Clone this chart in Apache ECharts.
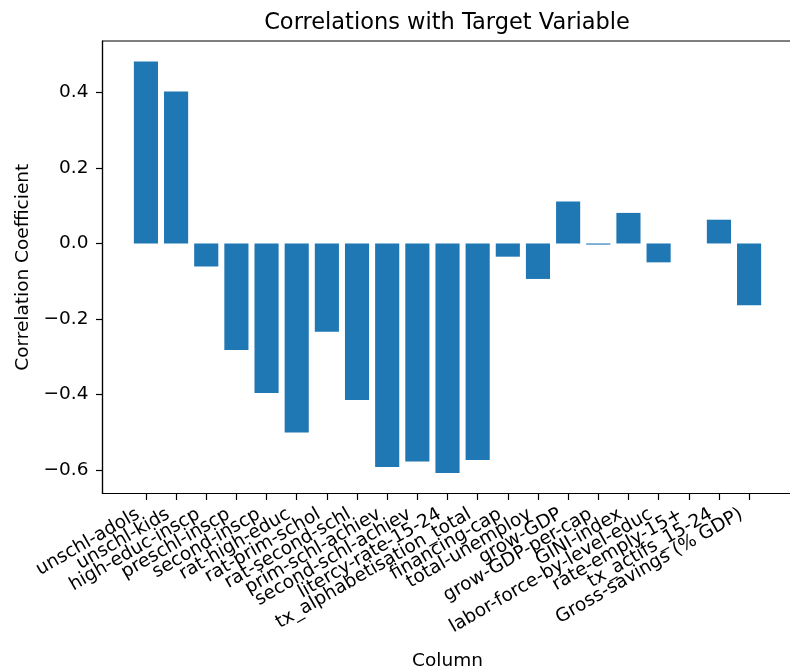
<!DOCTYPE html>
<html>
<head>
<meta charset="utf-8">
<script src="https://cdn.jsdelivr.net/npm/echarts@6/dist/echarts.min.js"></script>
<style>
  html, body { margin: 0; padding: 0; background: #fff; }
  #chart { width: 790px; height: 672px; }
</style>
</head>
<body>
<div id="chart"></div>
<script>
// Feature names along the x axis
const columns = [
  'unschl-adols', 'unschl-kids', 'high-educ-inscp', 'preschl-inscp',
  'second-inscp', 'rat-high-educ', 'rat-prim-schol', 'rat-second-schl',
  'prim-schl-achiev', 'second-schl-achiev', 'litercy-rate-15-24',
  'tx_alphabetisation_total', 'financing-cap', 'total-unemploy', 'grow-GDP',
  'grow-GDP-per-cap', 'GINI-index', 'labor-force-by-level-educ',
  'rate-emply-15+', 'tx_actifs_15-24', 'Gross-savings (% GDP)'
];

// Correlation of each feature with the target (null = undefined correlation)
const correlations = [
  0.482, 0.403, -0.061, -0.282,
  -0.396, -0.501, -0.234, -0.415,
  -0.592, -0.578, -0.608,
  -0.574, -0.035, -0.094, 0.111,
  -0.003, 0.081, -0.050,
  null, 0.063, -0.164
];

// Y tick values
const yTicks = [-0.6, -0.4, -0.2, 0.0, 0.2, 0.4];

const FONT = 'DejaVu Sans';
const barColor = '#1f77b4';

// Axes frame and the band layout inside it: the frame keeps a margin of
// 1.44 bar slots on each side, the category bands fill the rest.
const FRAME = { left: 102.5, top: 41, width: 690, height: 452.5 };
const SLOT_MARGIN = 1.44;
const slot = FRAME.width / (columns.length - 1 + 2 * SLOT_MARGIN);
const bandLeft = FRAME.left + (SLOT_MARGIN - 0.5) * slot;
const bandWidth = columns.length * slot;

const Y_MIN = -0.6625, Y_MAX = 0.5365;
const lineStyle = { color: '#000', width: 1.2 };

const chart = echarts.init(document.getElementById('chart'), null, { renderer: 'canvas' });

chart.setOption({
  animation: false,
  backgroundColor: '#ffffff',
  title: {
    text: 'Correlations with Target Variable',
    left: 447,
    top: 12,
    padding: 0,
    textAlign: 'center',
    textStyle: { fontFamily: FONT, fontSize: 22.5, fontWeight: 'normal', color: '#000' }
  },
  grid: [
    {
      // axes frame
      left: FRAME.left, top: FRAME.top, width: FRAME.width, height: FRAME.height,
      containLabel: false, outerBoundsMode: 'none',
      show: true, borderColor: '#000', borderWidth: 1.2, backgroundColor: 'transparent'
    },
    {
      // category bands
      left: bandLeft, top: FRAME.top, width: bandWidth, height: FRAME.height,
      containLabel: false, outerBoundsMode: 'none', show: false
    }
  ],
  xAxis: [
    { type: 'value', gridIndex: 0, show: false, min: 0, max: 1 },
    {
      type: 'category',
      gridIndex: 1,
      data: columns,
      boundaryGap: true,
      name: 'Column',
      nameLocation: 'middle',
      nameGap: 158,
      nameMoveOverlap: false,
      nameTextStyle: { fontFamily: FONT, fontSize: 18.5, color: '#000' },
      splitLine: { show: false },
      axisLine: { show: false, onZero: false },
      axisTick: { show: true, alignWithLabel: true, interval: 0, length: 6.5, lineStyle },
      axisLabel: {
        interval: 0,
        rotate: 30,
        margin: 15,
        padding: [0, 9, 0, 0],
        hideOverlap: false,
        fontFamily: FONT,
        fontSize: 18.5,
        color: '#000'
      }
    }
  ],
  yAxis: [
    {
      type: 'value',
      gridIndex: 0,
      min: Y_MIN,
      max: Y_MAX,
      name: 'Correlation Coefficient',
      nameLocation: 'middle',
      nameGap: 70,
      nameMoveOverlap: false,
      nameTextStyle: { fontFamily: FONT, fontSize: 18.5, color: '#000' },
      splitLine: { show: false },
      axisLine: { show: true, onZero: false, lineStyle },
      axisTick: { show: true, customValues: yTicks, length: 6.5, lineStyle },
      axisLabel: {
        customValues: yTicks,
        margin: 14,
        fontFamily: FONT,
        fontSize: 18.5,
        color: '#000',
        formatter: v => (v < 0 ? '\u2212' : '') + Math.abs(v).toFixed(1)
      }
    },
    { type: 'value', gridIndex: 1, show: false, min: Y_MIN, max: Y_MAX, splitLine: { show: false } }
  ],
  series: [{
    type: 'bar',
    xAxisIndex: 1,
    yAxisIndex: 1,
    data: correlations,
    barWidth: '80%',
    itemStyle: { color: barColor }
  }]
});
</script>
</body>
</html>
